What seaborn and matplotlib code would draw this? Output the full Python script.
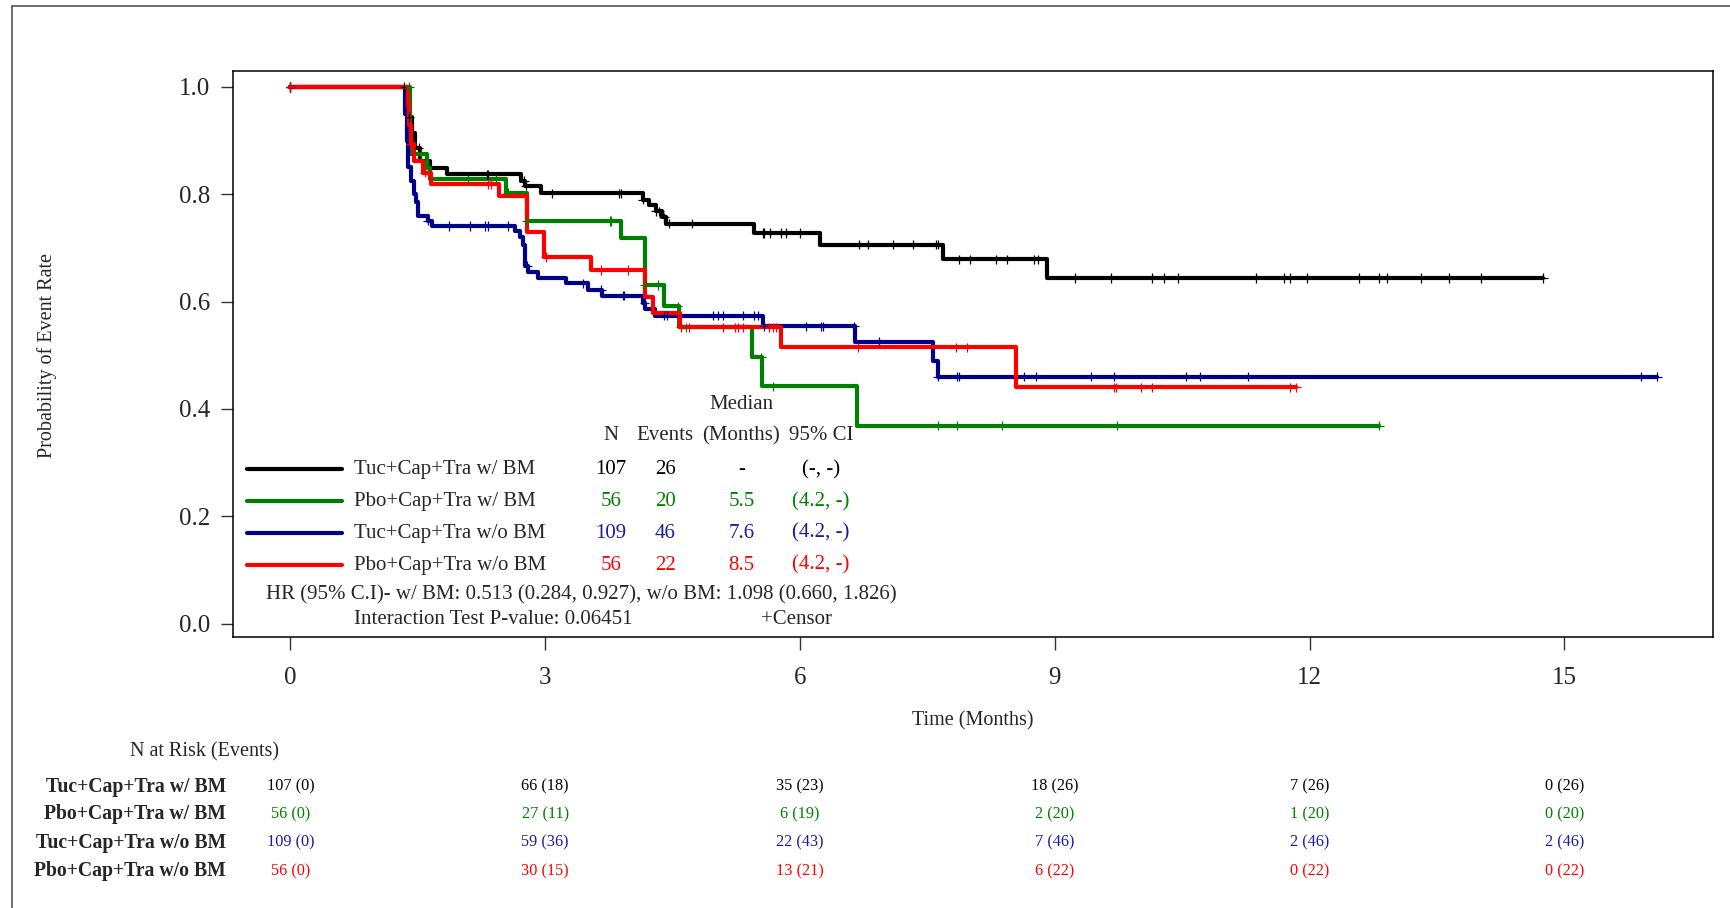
import numpy as np
import pandas as pd
import seaborn as sns
import matplotlib.pyplot as plt
from matplotlib.lines import Line2D
from matplotlib.transforms import blended_transform_factory

# ── Data ─────────────────────────────────────────────────────────────
GROUPS = ['Tuc+Cap+Tra w/ BM', 'Pbo+Cap+Tra w/ BM',
          'Tuc+Cap+Tra w/o BM', 'Pbo+Cap+Tra w/o BM']
COLORS = ['#000000', '#008000', '#00008B', '#FF0000']
TEXT_COLORS = ['#000000', '#008000', '#1A1AA6', '#FF0000']

# step curves: time of change -> new survival level
tuc_bm_t = [0, 1.38, 1.40, 1.43, 1.47, 1.52, 1.64, 1.84, 2.72, 2.76, 2.95,
            4.15, 4.22, 4.30, 4.38, 4.42, 5.46, 6.23, 7.68, 8.91]
tuc_bm_s = [1.0, 0.972, 0.944, 0.915, 0.887, 0.862, 0.849, 0.837, 0.825, 0.816, 0.802,
            0.790, 0.780, 0.768, 0.757, 0.745, 0.728, 0.706, 0.679, 0.644]
pbo_bm_t = [0, 1.41, 1.61, 1.64, 2.54, 2.78, 3.89, 4.17, 4.40, 4.57, 5.44, 5.55, 6.67]
pbo_bm_s = [1.0, 0.875, 0.849, 0.828, 0.803, 0.750, 0.719, 0.631, 0.591, 0.552,
            0.496, 0.442, 0.369]
tuc_nobm_t = [0, 1.35, 1.37, 1.39, 1.42, 1.46, 1.48, 1.50, 1.62, 1.67, 2.64, 2.70,
              2.74, 2.76, 2.80, 2.92, 3.25, 3.50, 3.67, 4.15, 4.18, 4.29, 5.56,
              6.65, 7.56, 7.62]
tuc_nobm_s = [1.0, 0.950, 0.900, 0.850, 0.825, 0.800, 0.785, 0.760, 0.751, 0.741,
              0.732, 0.720, 0.705, 0.667, 0.656, 0.644, 0.634, 0.622, 0.611, 0.598,
              0.586, 0.574, 0.554, 0.525, 0.490, 0.460]
pbo_nobm_t = [0, 1.38, 1.40, 1.42, 1.45, 1.56, 1.66, 2.45, 2.79, 2.99, 3.54, 4.17,
              4.27, 4.59, 5.78, 8.54]
pbo_nobm_s = [1.0, 0.964, 0.929, 0.893, 0.862, 0.840, 0.819, 0.797, 0.729, 0.683,
              0.659, 0.608, 0.578, 0.552, 0.515, 0.440]
end_times = [14.75, 12.82, 16.09, 11.84]

# censor times
tuc_bm_c = [0, 1.34, 1.40, 1.51, 2.31, 2.33, 2.75, 2.77, 3.08, 3.87, 3.89, 4.15,
            4.30, 4.34, 4.40, 4.46, 4.73, 5.56, 5.58, 5.65, 5.78, 5.84, 6.00, 6.70,
            6.80, 7.09, 7.33, 7.60, 7.62, 7.87, 8.00, 8.31, 8.44, 8.75, 8.80, 9.24,
            9.66, 10.15, 10.29, 10.45, 11.37, 11.70, 11.77, 11.97, 12.58, 12.82,
            12.91, 13.31, 13.64, 14.02, 14.75]
pbo_bm_c = [0, 1.40, 1.54, 2.09, 2.42, 2.56, 2.78, 3.76, 3.78, 4.17, 4.33, 4.56,
            4.66, 5.54, 5.68, 7.62, 7.85, 8.38, 9.73, 12.82]
tuc_nobm_c = [0, 1.62, 1.87, 2.11, 2.29, 2.33, 2.56, 2.79, 3.44, 3.66, 3.91, 3.93,
              4.17, 4.40, 4.43, 4.97, 5.03, 5.09, 5.33, 5.46, 5.50, 5.58, 6.07,
              6.25, 6.27, 6.64, 6.93, 7.62, 7.85, 7.87, 8.64, 8.78, 9.43, 9.70,
              10.55, 10.71, 11.27, 15.90, 16.09]
pbo_nobm_c = [0, 1.42, 1.58, 2.33, 2.36, 3.01, 3.66, 3.97, 4.60, 4.69, 5.09, 5.24,
              5.27, 5.33, 5.64, 5.68, 5.72, 6.68, 7.84, 7.97, 9.70, 9.72, 10.02,
              10.15, 11.77, 11.84]

# summary table
n_total = ['107', '56', '109', '56']
n_events = ['26', '20', '46', '22']
median_months = ['-', '5.5', '7.6', '8.5']
median_ci = ['(-, -)', '(4.2, -)', '(4.2, -)', '(4.2, -)']
hr_text = 'HR (95% C.I)- w/ BM: 0.513 (0.284, 0.927), w/o BM: 1.098 (0.660, 1.826)'
p_text = 'Interaction Test P-value: 0.06451'

# numbers at risk
risk_times = [0, 3, 6, 9, 12, 15]
at_risk = [[107, 66, 35, 18, 7, 0],
           [56, 27, 6, 2, 1, 0],
           [109, 59, 22, 7, 2, 2],
           [56, 30, 13, 6, 0, 0]]
risk_events = [[0, 18, 23, 26, 26, 26],
               [0, 11, 19, 20, 20, 20],
               [0, 36, 43, 46, 46, 46],
               [0, 15, 21, 22, 22, 22]]

# ── Build frames ─────────────────────────────────────────────────────
step_t = [tuc_bm_t, pbo_bm_t, tuc_nobm_t, pbo_nobm_t]
step_s = [tuc_bm_s, pbo_bm_s, tuc_nobm_s, pbo_nobm_s]
cens_t = [tuc_bm_c, pbo_bm_c, tuc_nobm_c, pbo_nobm_c]

curve_rows, cens_rows = [], []
for g, t, s, c, end in zip(GROUPS, step_t, step_s, cens_t, end_times):
    for ti, si in zip(t + [end], s + [s[-1]]):
        curve_rows.append((g, ti, si))
    t_arr = np.asarray(t)
    for ci in c:
        idx = np.searchsorted(t_arr, ci, side='right') - 1
        cens_rows.append((g, ci, s[idx]))
curves = pd.DataFrame(curve_rows, columns=['group', 'time', 'surv'])
censors = pd.DataFrame(cens_rows, columns=['group', 'time', 'surv'])
palette = dict(zip(GROUPS, COLORS))

# ── Plot ─────────────────────────────────────────────────────────────
sns.set_style('ticks')
plt.rcParams['font.family'] = ['Liberation Serif', 'DejaVu Serif']

fig = plt.figure(figsize=(17.3, 9.08), dpi=100)
ax = fig.add_axes([0.1345, 0.2985, 0.8557, 0.6235])

sns.lineplot(data=curves, x='time', y='surv', hue='group', hue_order=GROUPS,
             palette=palette, estimator=None, sort=False, drawstyle='steps-post',
             linewidth=3.0, legend=False, ax=ax)
sns.scatterplot(data=censors, x='time', y='surv', hue='group', hue_order=GROUPS,
                palette=palette, marker='+', s=45, linewidth=0.9, legend=False,
                ax=ax, zorder=3)

ax.set_xlim(-0.68, 16.75)
ax.set_ylim(-0.025, 1.03)
ax.set_xticks(risk_times)
ax.set_yticks([0, 0.2, 0.4, 0.6, 0.8, 1.0])
ax.set_yticklabels([f'{v:.1f}' for v in [0, 0.2, 0.4, 0.6, 0.8, 1.0]])
ax.tick_params(axis='both', labelsize=18, length=9, width=1, color='#333333')
ax.tick_params(axis='y', pad=7)
ax.tick_params(axis='x', pad=12.5)
for sp in ax.spines.values():
    sp.set_visible(True)
    sp.set_linewidth(1.1)
    sp.set_color('black')

ax.set_xlabel('Time (Months)', fontsize=14.5, va='center')
ax.xaxis.set_label_coords(0.5, -0.149)
ax.set_ylabel('Probability of Event Rate', fontsize=14.5, va='center')
ax.yaxis.set_label_coords(-0.1252, 0.498)

# in-plot legend table
ta = ax.transAxes
col_x = [0.2557, 0.2922, 0.3437, 0.3974]
ax.text(0.3437, 0.4107, 'Median', transform=ta, ha='center', va='center', fontsize=15)
for x, h in zip(col_x, ['N', 'Events', '(Months)', '95% CI']):
    ax.text(x, 0.355, h, transform=ta, ha='center', va='center', fontsize=15)
row_y = [0.2960, 0.2395, 0.1830, 0.1265]
for i, g in enumerate(GROUPS):
    y = row_y[i]
    ax.add_line(Line2D([0.0097, 0.0738], [y, y], transform=ta, color=COLORS[i], lw=3.0))
    ax.text(0.082, y, g, transform=ta, ha='left', va='center', fontsize=15)
    for x, v in zip(col_x, [n_total[i], n_events[i], median_months[i], median_ci[i]]):
        ax.text(x, y, v, transform=ta, ha='center', va='center', fontsize=15,
                color=TEXT_COLORS[i])
ax.text(0.2356, 0.0741, hr_text, transform=ta, ha='center', va='center', fontsize=15)
ax.text(0.082, 0.0313, p_text, transform=ta, ha='left', va='center', fontsize=15)
ax.text(0.381, 0.0313, '+Censor', transform=ta, ha='center', va='center', fontsize=15)

# numbers at risk table
bt = blended_transform_factory(ax.transData, fig.transFigure)
fig.text(0.118, 0.1725, 'N at Risk (Events)', ha='center', va='center', fontsize=14.5)
risk_y = [0.1336, 0.1036, 0.0721, 0.0404]
for i, g in enumerate(GROUPS):
    fig.text(0.1307, risk_y[i], g, ha='right', va='center', fontsize=14.2,
             fontweight='bold')
    for t, n, e in zip(risk_times, at_risk[i], risk_events[i]):
        ax.text(t, risk_y[i], f'{n} ({e})', transform=bt, ha='center', va='center',
                fontsize=11.7, color=TEXT_COLORS[i], clip_on=False)

# outer frame (top and left edges)
fig.add_artist(Line2D([12 / 1730, 1], [1 - 6 / 908, 1 - 6 / 908],
                      transform=fig.transFigure, color='#555555', lw=1.2))
fig.add_artist(Line2D([12 / 1730, 12 / 1730], [0, 1 - 6 / 908],
                      transform=fig.transFigure, color='#555555', lw=1.2))

fig.savefig('out.png', dpi=100, facecolor='white')
